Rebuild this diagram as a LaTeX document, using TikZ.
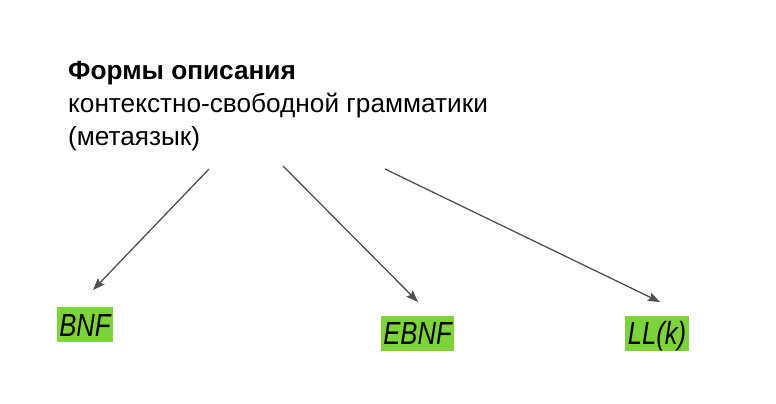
\documentclass[tikz,border=0pt]{standalone}
\usepackage{fontspec}
\setmainfont{Liberation Sans}
\newfontfamily\labelfont{Liberation Sans}[FakeStretch=0.8]
\usetikzlibrary{arrows.meta}
\definecolor{hlgreen}{RGB}{125,211,58}
\definecolor{arrowgray}{RGB}{80,80,80}
\tikzset{
  titletext/.style={anchor=base west, inner sep=0pt, font=\fontsize{26.2}{33}\selectfont, text=black},
  hlbox/.style={fill=hlgreen, font=\labelfont\itshape\fontsize{32}{38}\selectfont, text=black,
    minimum height=35pt, text height=23pt, text depth=0pt, inner ysep=6pt, inner xsep=2.5pt},
  conn/.style={draw=arrowgray, line width=1.3pt, -{Stealth[length=12pt,width=9pt,inset=2pt]}}
}
\begin{document}
\begin{tikzpicture}[x=1pt,y=-1pt]
\useasboundingbox[fill=white] (0,0) rectangle (776,404);
\node[titletext, font=\bfseries\fontsize{26.2}{33}\selectfont] (t1) at (68,79) {Формы описания};
\node[titletext] (t2) at (68,112) {контекстно-свободной грамматики};
\node[titletext] (t3) at (68,145) {(метаязык)};
\node[hlbox] (bnf) at (85,324.5) {BNF};
\node[hlbox] (ebnf) at (417.5,333) {EBNF};
\node[hlbox] (llk) at (657,333) {LL(k)};
\coordinate (s1) at (209,169);
\coordinate (s2) at (283,166);
\coordinate (s3) at (385,169);
\coordinate (e1) at (93,290);
\coordinate (e2) at (418,302);
\coordinate (e3) at (660,302);
\draw[conn] (s1) -- (e1);
\draw[conn] (s2) -- (e2);
\draw[conn] (s3) -- (e3);
\end{tikzpicture}
\end{document}
